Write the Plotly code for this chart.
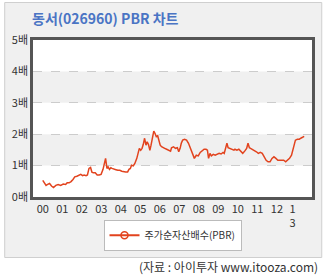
import plotly.graph_objects as go

# Decimal-year positions and PBR values
years = [2000.0, 2000.08, 2000.17, 2000.25, 2000.35, 2000.45, 2000.55, 2000.67, 2000.79, 2000.92,
         2001.05, 2001.17, 2001.25, 2001.35, 2001.45, 2001.55, 2001.64, 2001.75, 2001.85, 2001.95,
         2002.04, 2002.12, 2002.22, 2002.29, 2002.37, 2002.45, 2002.52, 2002.59, 2002.69, 2002.79,
         2002.89, 2002.99, 2003.09, 2003.17, 2003.22, 2003.29, 2003.35, 2003.42, 2003.49, 2003.55,
         2003.65, 2003.75, 2003.85, 2003.95, 2004.05, 2004.15, 2004.25, 2004.35, 2004.42, 2004.49,
         2004.55, 2004.64, 2004.72, 2004.82, 2004.89, 2004.95, 2005.02, 2005.09, 2005.15, 2005.22,
         2005.29, 2005.35, 2005.42, 2005.49, 2005.55, 2005.62, 2005.69, 2005.75, 2005.82, 2005.89,
         2005.95, 2006.02, 2006.09, 2006.15, 2006.25, 2006.35, 2006.45, 2006.55, 2006.6, 2006.7,
         2006.8, 2006.9, 2006.97, 2007.04, 2007.1, 2007.17, 2007.27, 2007.37, 2007.47, 2007.57,
         2007.67, 2007.77, 2007.87, 2007.97, 2008.07, 2008.17, 2008.27, 2008.37, 2008.44, 2008.5,
         2008.57, 2008.64, 2008.74, 2008.84, 2008.94, 2009.04, 2009.14, 2009.24, 2009.3, 2009.37,
         2009.44, 2009.5, 2009.6, 2009.7, 2009.8, 2009.85, 2009.95, 2010.05, 2010.15, 2010.25,
         2010.35, 2010.45, 2010.52, 2010.59, 2010.65, 2010.75, 2010.85, 2010.95, 2011.05, 2011.15,
         2011.25, 2011.35, 2011.45, 2011.55, 2011.65, 2011.75, 2011.85, 2011.95, 2012.05, 2012.15,
         2012.25, 2012.35, 2012.45, 2012.55, 2012.65, 2012.75, 2012.82, 2012.89, 2012.95, 2013.05,
         2013.15, 2013.25, 2013.35, 2013.4]
pbr = [0.53, 0.43, 0.37, 0.40, 0.43, 0.35, 0.30, 0.37, 0.40, 0.37,
       0.41, 0.40, 0.45, 0.45, 0.49, 0.56, 0.64, 0.66, 0.68, 0.72,
       0.68, 0.70, 0.68, 0.70, 0.91, 0.94, 0.79, 0.77, 0.77, 0.70,
       0.70, 0.72, 0.88, 1.07, 1.23, 0.91, 0.96, 0.88, 0.93, 0.91,
       0.88, 0.87, 0.85, 0.85, 0.82, 0.80, 0.80, 0.80, 0.88, 0.91,
       1.01, 0.99, 1.07, 1.23, 1.39, 1.55, 1.49, 1.55, 1.67, 1.87,
       1.65, 1.76, 1.67, 1.49, 1.65, 1.87, 2.10, 2.03, 1.92, 1.95,
       1.81, 1.65, 1.60, 1.57, 1.55, 1.52, 1.49, 1.46, 1.57, 1.60,
       1.55, 1.57, 1.44, 1.55, 1.71, 1.81, 1.84, 1.81, 1.71, 1.55,
       1.39, 1.23, 1.33, 1.31, 1.42, 1.46, 1.52, 1.52, 1.49, 1.23,
       1.39, 1.31, 1.36, 1.33, 1.36, 1.39, 1.37, 1.42, 1.39, 1.52,
       1.71, 1.57, 1.55, 1.52, 1.49, 1.52, 1.49, 1.52, 1.46, 1.39,
       1.46, 1.55, 1.71, 1.57, 1.55, 1.52, 1.49, 1.44, 1.39, 1.42,
       1.39, 1.28, 1.17, 1.12, 1.12, 1.23, 1.28, 1.23, 1.17, 1.17,
       1.17, 1.17, 1.12, 1.17, 1.23, 1.33, 1.49, 1.65, 1.81, 1.84,
       1.84, 1.88, 1.92, 1.93]

tick_pos = [2000, 2001, 2002, 2003, 2004, 2005, 2006, 2007, 2008, 2009, 2010, 2011, 2012, 2012.8]
tick_text = ["00", "01", "02", "03", "04", "05", "06", "07", "08", "09", "10", "11", "12", "1<br>3"]
y_ticks = [0, 1, 2, 3, 4, 5]
y_text = ["0배", "1배", "2배", "3배", "4배", "5배"]
bands = [(1, 2), (3, 4)]

FONT = "Noto Sans CJK KR"
RED = "#e2431e"

fig = go.Figure()
fig.add_trace(go.Scatter(x=years, y=pbr, mode="lines", line=dict(color=RED, width=1.5),
                         showlegend=False, hoverinfo="skip"))
fig.add_trace(go.Scatter(x=[None], y=[None], mode="lines+markers", name="주가순자산배수(PBR)",
                         line=dict(color=RED, width=2),
                         marker=dict(symbol="circle-open", size=7, color=RED, line=dict(width=1.5))))

shapes = [
    dict(type="rect", xref="paper", yref="paper", x0=-29/286, x1=1 + 10/286,
         y0=(197 - 257.5) / 157, y1=(197 - 2.5) / 157,
         fillcolor="#f0f0f0", line=dict(color="#cfcfcf", width=1), layer="below"),
    dict(type="rect", xref="paper", yref="paper", x0=0, x1=1, y0=0, y1=1,
         fillcolor="white", line=dict(width=0), layer="below"),
]
for a, b in bands:
    shapes.append(dict(type="rect", xref="paper", yref="y", x0=0, x1=1, y0=a, y1=b,
                       fillcolor="#f0f0f0", line=dict(width=0), layer="below"))

fig.update_layout(
    width=327, height=275,
    margin=dict(l=29, r=12, t=40, b=78),
    paper_bgcolor="white", plot_bgcolor="rgba(0,0,0,0)",
    font=dict(family=FONT, size=11, color="#333"),
    shapes=shapes,
    title=dict(text="<b>동서(026960) PBR 차트</b>", x=32/327, xanchor="left", y=1 - 19/275, yanchor="middle",
               font=dict(family=FONT, size=14, color="#4a74c4")),
    xaxis=dict(range=[1999.5, 2013.8], tickvals=tick_pos, ticktext=tick_text, showgrid=False,
               zeroline=False, showline=True, mirror=True, linecolor="#555", linewidth=2.5,
               ticks="", tickfont=dict(size=11, color="#333")),
    yaxis=dict(range=[0, 5], tickvals=y_ticks, ticktext=y_text, showgrid=True,
               gridcolor="#cccccc", griddash="dash", gridwidth=1, zeroline=False,
               showline=True, mirror=True, linecolor="#555", linewidth=2.5, ticks="",
               tickfont=dict(size=11, color="#333")),
    legend=dict(orientation="h", x=0.5, xanchor="center", y=-0.145, yanchor="top",
                bgcolor="white", bordercolor="#bbbbbb", borderwidth=1,
                font=dict(size=10, color="#333")),
    annotations=[dict(text="(자료 : 아이투자 www.itooza.com)", xref="paper", yref="paper",
                      x=1 + 8/286, xanchor="right", y=(197 - 266) / 157, yanchor="middle",
                      showarrow=False, font=dict(family=FONT, size=12, color="#333"))],
)

fig.write_html("out.html")
